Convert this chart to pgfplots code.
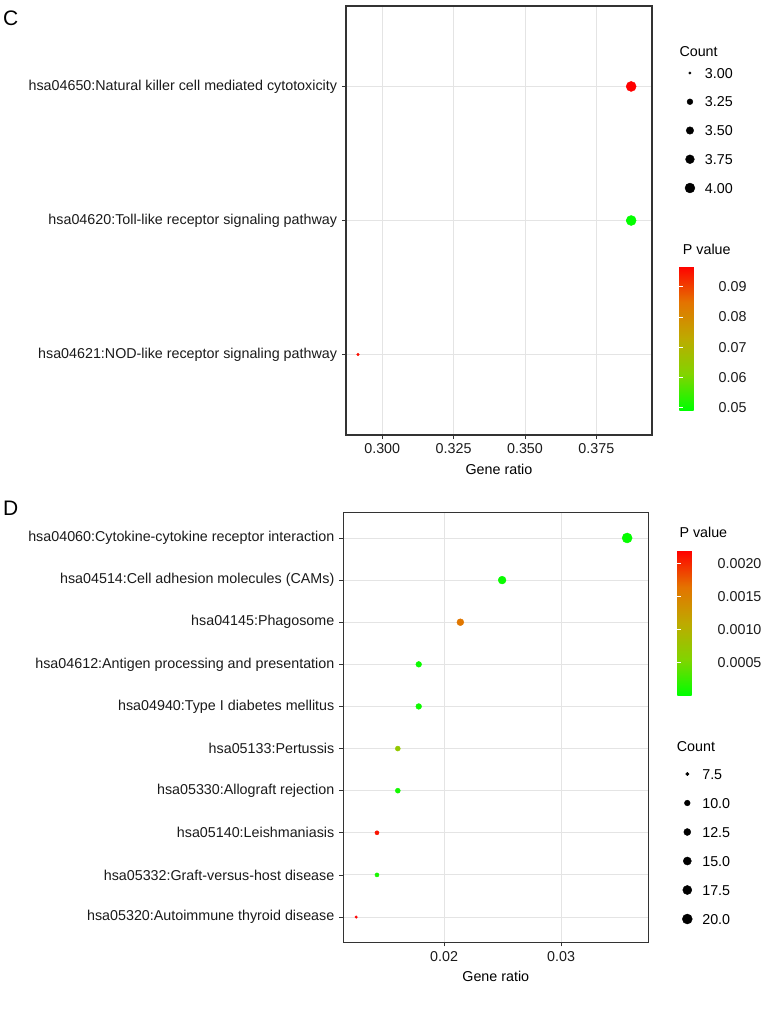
\documentclass[border=0pt]{standalone}
\usepackage{fontspec}
\setmainfont{Liberation Sans}
\usepackage{pgfplots}
\pgfplotsset{compat=1.18}

\definecolor{gridgrey}{RGB}{228,228,228}
\definecolor{framegrey}{RGB}{51,51,51}
\definecolor{labelgrey}{RGB}{26,26,26}

\newcommand{\fs}{\fontsize{14.3}{17}\selectfont}

\pgfplotsset{
  colormap={greenred}{rgb255=(0,255,0) rgb255=(130,212,0) rgb255=(190,170,0) rgb255=(228,115,0) rgb255=(255,0,0)},
  kegg/.style={
    scale only axis, anchor=north west,
    axis line style={draw=framegrey, line width=1.3pt},
    xmajorgrids, ymajorgrids,
    major grid style={draw=gridgrey, line width=0.9pt},
    tick align=outside, major tick length=4pt,
    tick style={draw=framegrey, line width=0.8pt},
    xtick pos=bottom, ytick pos=left,
    scaled x ticks=false,
    ticklabel style={font=\fs, text=labelgrey},
    label style={font=\fs, text=black},
    xlabel={Gene ratio},
    colormap name=greenred,
    legend cell align=left,
    legend style={draw=none, fill=none, inner sep=0pt, outer sep=0pt,
      at={(axis description cs:1,1)}, anchor=north west,
      font=\fs, column sep=10pt,
      nodes={inner sep=0pt, text height=10pt, text depth=0pt}},
    colorbar,
    colorbar shift/.style={},
    colorbar style={
      at={(parent axis.north east)}, anchor=north west,
      scale only axis,
      axis line style={draw=none},
      tick align=inside, major tick length=4pt,
      tick style={draw=white, line width=0.8pt},
      ytick pos=both, yticklabel pos=right,
      scaled y ticks=false,
      yticklabel style={font=\fs, text=labelgrey, xshift=5pt},
    },
  },
  kegg dots/.style={
    scatter, only marks, mark=*, forget plot,
    point meta=explicit,
    scatter/use mapped color={draw=mapped color, fill=mapped color},
    scatter/@pre marker code/.append style={/tikz/mark size=\rr pt},
  },
}

\begin{document}
\fs
\begin{tikzpicture}
\useasboundingbox (0pt,0pt) rectangle (765pt,-1010pt);

\node[anchor=base west, inner sep=0pt, font=\fontsize{21}{24}\selectfont] at (3pt,-25pt) {C};
\node[anchor=base west, inner sep=0pt, font=\fontsize{21}{24}\selectfont] at (3pt,-515pt) {D};

% panel C
\begin{axis}[kegg,
  at={(346pt,-6pt)}, width=306pt, height=429pt,
  xmin=0.2873, xmax=0.3945, ymin=0.4, ymax=3.6,
  xtick={0.300,0.325,0.350,0.375}, xticklabels={0.300,0.325,0.350,0.375},
  ytick={1,2,3},
  yticklabels={hsa04621:NOD-like receptor signaling pathway,
               hsa04620:Toll-like receptor signaling pathway,
               hsa04650:Natural killer cell mediated cytotoxicity},
  point meta min=0.0493, point meta max=0.0968,
  legend style={xshift=33pt, yshift=-62pt, row sep=18.75pt},
  colorbar style={xshift=27.3pt, yshift=-260pt, width=29.4pt, height=144pt,
    ytick={0.05,0.06,0.07,0.08,0.09}, yticklabels={0.05,0.06,0.07,0.08,0.09}},
]
\addplot[kegg dots, visualization depends on={0.8+sqrt(0.25+17.6*(\thisrow{count}-3))\as\rr}]
  table[x=ratio, y=row, meta=p] {
  row ratio  count p
  3   0.3872 4     0.0968
  2   0.3872 4     0.0495
  1   0.2915 3     0.0955
  };
\addlegendimage{only marks, mark=*, black, mark size=1.2pt}
\addlegendentry{3.00}
\addlegendimage{only marks, mark=*, black, mark size=2.9pt}
\addlegendentry{3.25}
\addlegendimage{only marks, mark=*, black, mark size=3.75pt}
\addlegendentry{3.50}
\addlegendimage{only marks, mark=*, black, mark size=4.4pt}
\addlegendentry{3.75}
\addlegendimage{only marks, mark=*, black, mark size=4.95pt}
\addlegendentry{4.00}
\end{axis}
\node[anchor=west, inner sep=0pt] at (679.3pt,-51.7pt) {Count};
\node[anchor=west, inner sep=0pt] at (682.7pt,-249.3pt) {P value};

% panel D
\begin{axis}[kegg,
  at={(343.3pt,-512.7pt)}, width=305pt, height=429.6pt,
  xmin=0.01138, xmax=0.03746, ymin=0.4, ymax=10.6,
  xtick={0.02,0.03}, xticklabels={0.02,0.03},
  ytick={1,...,10},
  yticklabels={hsa05320:Autoimmune thyroid disease,
               hsa05332:Graft-versus-host disease,
               hsa05140:Leishmaniasis,
               hsa05330:Allograft rejection,
               hsa05133:Pertussis,
               hsa04940:Type I diabetes mellitus,
               hsa04612:Antigen processing and presentation,
               hsa04145:Phagosome,
               hsa04514:Cell adhesion molecules (CAMs),
               hsa04060:Cytokine-cytokine receptor interaction},
  point meta min=0.0, point meta max=0.00219,
  legend style={xshift=34pt, yshift=-256.3pt, row sep=19pt},
  colorbar style={xshift=29pt, yshift=-38pt, width=30.4pt, height=144.6pt,
    ytick={0.0005,0.001,0.0015,0.002}, yticklabels={0.0005,0.0010,0.0015,0.0020}},
]
\addplot[kegg dots, visualization depends on={0.8+sqrt(0.25+17.6*(\thisrow{count}-7)/13)\as\rr}]
  table[x=ratio, y=row, meta=p] {
  row ratio   count p
  10  0.03565 20    0.00002
  9   0.02496 14    0.00004
  8   0.02139 12    0.00160
  7   0.01783 10    0.00005
  6   0.01783 10    0.00006
  5   0.01604 9     0.00070
  4   0.01604 9     0.00008
  3   0.01426 8     0.00210
  2   0.01426 8     0.00010
  1   0.01248 7     0.00219
  };
\addlegendimage{only marks, mark=*, black, mark size=1.7pt}
\addlegendentry{7.5}
\addlegendimage{only marks, mark=*, black, mark size=2.85pt}
\addlegendentry{10.0}
\addlegendimage{only marks, mark=*, black, mark size=3.5pt}
\addlegendentry{12.5}
\addlegendimage{only marks, mark=*, black, mark size=4.05pt}
\addlegendentry{15.0}
\addlegendimage{only marks, mark=*, black, mark size=4.55pt}
\addlegendentry{17.5}
\addlegendimage{only marks, mark=*, black, mark size=5.0pt}
\addlegendentry{20.0}
\end{axis}
\node[anchor=west, inner sep=0pt] at (679.3pt,-532.7pt) {P value};
\node[anchor=west, inner sep=0pt] at (676.7pt,-746.7pt) {Count};
\end{tikzpicture}
\end{document}
